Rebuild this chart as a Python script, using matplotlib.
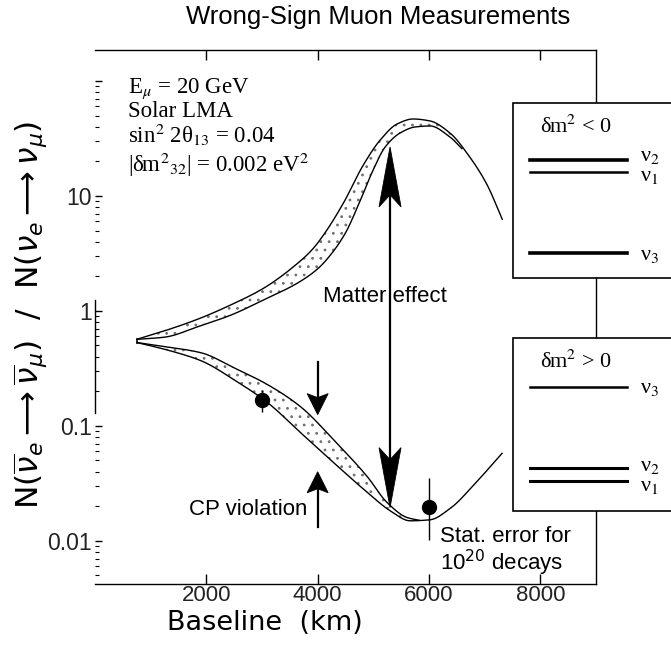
import numpy as np
import matplotlib
matplotlib.use("Agg")
import matplotlib.pyplot as plt
from matplotlib.patches import Polygon, Rectangle
from matplotlib.lines import Line2D
from matplotlib.ticker import FixedLocator, FixedFormatter, NullFormatter, LogLocator

plt.rcParams["mathtext.fontset"] = "stix"
plt.rcParams["hatch.linewidth"] = 0.8
plt.rcParams["hatch.color"] = "#707070"

# ---- curves: ratio of wrong-sign muon rates vs baseline ----
# band for dm^2 > 0 (ratio grows with baseline)
upper_hi_km = [750, 1250, 1857, 2446, 3036, 3643, 3911, 4143, 4464, 4821, 5125,
               5429, 5714, 6018, 6375, 6732, 7036, 7321]
upper_hi = [0.565, 0.67, 0.85, 1.13, 1.58, 2.6, 3.45, 4.86, 8.69, 18.6, 30.7,
            42.3, 46.7, 44.9, 35.3, 21.8, 12.7, 6.18]
upper_lo_km = [750, 1250, 1857, 2446, 3036, 3643, 4000, 4232, 4500, 4732, 4982,
               5214, 5482, 5750, 6018, 6375, 6600]
upper_lo = [0.565, 0.59, 0.73, 0.92, 1.25, 1.75, 2.32, 3.07, 4.77, 8.35, 16.2,
            26.7, 35.3, 39.8, 40.6, 32.6, 25.5]

# band for dm^2 < 0 (ratio falls with baseline)
lower_hi_km = [750, 1286, 1911, 2500, 3107, 3696, 4286, 4893, 5250, 5607, 5839]
lower_hi = [0.53, 0.486, 0.431, 0.319, 0.227, 0.146, 0.0756, 0.0360, 0.0214,
            0.0159, 0.0150]
lower_lo_km = [750, 1286, 1911, 2500, 3107, 3696, 4286, 4893, 5304, 5661, 6018,
               6375, 6857, 7321]
lower_lo = [0.53, 0.458, 0.367, 0.251, 0.158, 0.0868, 0.0478, 0.0263, 0.0182,
            0.0149, 0.0152, 0.0190, 0.0326, 0.0582]

# example measurements with statistical errors for 10^20 decays
meas_km = [3000, 6000]
meas_ratio = [0.168, 0.0198]
meas_err_low = [0.036, 0.0096]
meas_err_high = [0.036, 0.0155]

xticks = [2000, 4000, 6000, 8000]
xtick_labels = ["2000", "4000", "6000", "8000"]
yticks = [0.01, 0.1, 1, 10, 100]
ytick_labels = ["0.01", "0.1", "1", "10", ""]

# ---- arrow positions ----
matter_km, matter_top, matter_bottom = 5300, 26.7, 0.0194
cp_km = 4000
cp_down = (0.36, 0.125)
cp_up = (0.0132, 0.0398)


def pchip(x, y, xn):
    x = np.asarray(x, float)
    y = np.asarray(y, float)
    h = np.diff(x)
    d = np.diff(y) / h
    m = np.zeros_like(y)
    for k in range(1, len(x) - 1):
        if d[k - 1] * d[k] > 0:
            w1 = 2 * h[k] + h[k - 1]
            w2 = h[k] + 2 * h[k - 1]
            m[k] = (w1 + w2) / (w1 / d[k - 1] + w2 / d[k])
    m[0] = d[0]
    m[-1] = d[-1]
    i = np.clip(np.searchsorted(x, xn) - 1, 0, len(h) - 1)
    t = (xn - x[i]) / h[i]
    h00 = 2 * t**3 - 3 * t**2 + 1
    h10 = t**3 - 2 * t**2 + t
    h01 = -2 * t**3 + 3 * t**2
    h11 = t**3 - t**2
    return h00 * y[i] + h10 * h[i] * m[i] + h01 * y[i + 1] + h11 * h[i] * m[i + 1]


def smooth(xs, ys, xn):
    return 10 ** pchip(xs, np.log10(ys), xn)


W, H = 671, 648
fig = plt.figure(figsize=(W / 100, H / 100), dpi=100)
fx = lambda px: px / W
fy = lambda py: 1 - py / H

ax = fig.add_axes([fx(95), fy(584), (596 - 95) / W, (584 - 50) / H])
ax.set_yscale("log")
ax.set_xlim(0, 9000)
ax.set_ylim(0.0042, 186)

# ---- stippled bands ----
x_ub = np.linspace(upper_lo_km[0], upper_lo_km[-1], 600)
ub_hi = smooth(upper_hi_km, upper_hi, x_ub)
ub_lo = smooth(upper_lo_km, upper_lo, x_ub)
ax.fill_between(x_ub, np.minimum(ub_hi, ub_lo), np.maximum(ub_hi, ub_lo),
                facecolor="none", edgecolor="#707070", hatch="..", lw=0)
x_lb = np.linspace(lower_hi_km[0], lower_hi_km[-1], 600)
lb_hi = smooth(lower_hi_km, lower_hi, x_lb)
lb_lo = smooth(lower_lo_km, lower_lo, x_lb)
ax.fill_between(x_lb, np.minimum(lb_hi, lb_lo), np.maximum(lb_hi, lb_lo),
                facecolor="none", edgecolor="#707070", hatch="..", lw=0)

for xs, ys in [(upper_hi_km, upper_hi), (upper_lo_km, upper_lo),
               (lower_hi_km, lower_hi), (lower_lo_km, lower_lo)]:
    xd = np.linspace(xs[0], xs[-1], 800)
    ax.plot(xd, smooth(xs, ys, xd), color="black", lw=1.0, solid_capstyle="butt")
# closing tick at the common starting point
ax.plot([upper_hi_km[0]] * 2, [lower_lo[0], upper_hi[0]], color="black", lw=1.2)

# ---- measurements ----
ax.errorbar(meas_km, meas_ratio, yerr=[meas_err_low, meas_err_high], fmt="o",
            color="black", ms=10, elinewidth=1.0, capsize=0, zorder=5)

# ---- arrows ----
def head(x, ytip, up, length, width, notch):
    tx, ty = ax.transData.transform((x, ytip))
    s = 1 if up else -1
    verts = [(tx, ty), (tx - width / 2, ty - s * length),
             (tx, ty - s * (length - notch)), (tx + width / 2, ty - s * length)]
    ax.add_patch(Polygon(ax.transData.inverted().transform(verts), closed=True,
                         fc="black", ec="black", lw=0.6, zorder=6))


ax.plot([matter_km, matter_km], [matter_bottom * 1.3, matter_top / 1.3],
        color="black", lw=1.6, zorder=6)
head(matter_km, matter_top, True, 60, 22, 12)
head(matter_km, matter_bottom, False, 60, 22, 12)

ax.plot([cp_km, cp_km], [cp_down[0], cp_down[1] * 1.1], color="black", lw=1.6)
head(cp_km, cp_down[1], False, 21, 21, 4)
ax.plot([cp_km, cp_km], [cp_up[0], cp_up[1] / 1.1], color="black", lw=1.6)
head(cp_km, cp_up[1], True, 21, 21, 4)

# ---- annotations ----
sans = "Liberation Sans"
ax.text(5214, 1.32, "Matter effect", family=sans, fontsize=16, ha="center", va="center")
ax.text(3821, 0.0187, "CP violation", family=sans, fontsize=16, ha="right", va="center")
ax.text(6196, 0.0108, "Stat. error for", family=sans, fontsize=16, ha="left", va="center")
ax.text(6196, 0.00645, r"10$^{\mathsf{20}}$ decays", family=sans, fontsize=16,
        ha="left", va="center", math_fontfamily="dejavusans")

serif = "Liberation Serif"
params = [r"E$_{\mu}$ = 20 GeV", "Solar LMA", r"sin$^2$ 2θ$_{13}$ = 0.04",
          r"|δm$^2$$_{32}$| = 0.002 eV$^2$"]
for txt, yb in zip(params, [0.919, 0.875, 0.826, 0.772]):
    ax.text(0.066, yb, txt, transform=ax.transAxes, family=serif, fontsize=16.5,
            ha="left", va="baseline")

# ---- axes styling ----
ax.xaxis.set_major_locator(FixedLocator(xticks))
ax.xaxis.set_major_formatter(FixedFormatter(xtick_labels))
ax.yaxis.set_major_locator(FixedLocator(yticks))
ax.yaxis.set_major_formatter(FixedFormatter(ytick_labels))
ax.yaxis.set_minor_locator(LogLocator(base=10, subs=np.arange(2, 10)))
ax.yaxis.set_minor_formatter(NullFormatter())
ax.tick_params(axis="x", which="major", direction="in", length=7, width=1,
               top=True, labelsize=16, pad=1, labelcolor="#222222")
ax.tick_params(axis="y", which="major", direction="in", length=5, width=1,
               labelsize=16.5, pad=2, labelcolor="#222222")
ax.tick_params(axis="y", which="minor", direction="in", length=3, width=0.8)
for lab in ax.get_xticklabels() + ax.get_yticklabels():
    lab.set_family(sans)
for sp in ax.spines.values():
    sp.set_linewidth(1.0)
ax.spines["left"].set_bounds(0.13, 1.25)

# ---- titles ----
fig.text(fx(378), fy(17), "Wrong-Sign Muon Measurements", family=sans, fontsize=18.5,
         ha="center", va="center")
fig.text(fx(265), fy(623), "Baseline  (km)", family="DejaVu Sans", fontsize=19.5,
         ha="center", va="center")
fig.text(fx(30), fy(315),
         r"$\mathrm{N}(\overline{\nu}_{e} \longrightarrow \overline{\nu}_{\mu})\ \ /\ \ \mathrm{N}(\nu_{e} \longrightarrow \nu_{\mu})$",
         rotation=90, fontsize=22.5, ha="center", va="center", math_fontfamily="dejavusans")

# ---- mass hierarchy insets ----
def inset(top, bottom, title, levels):
    fig.add_artist(Rectangle((fx(513), fy(bottom)), fx(680) - fx(513), fy(top) - fy(bottom),
                             transform=fig.transFigure, fc="white", ec="black", lw=1.2,
                             zorder=10))
    fig.text(fx(540), fy(top + 24), title, family=serif, fontsize=16, ha="left",
             va="center", zorder=11)
    for py, lw, label, ly in levels:
        fig.add_artist(Line2D([fx(530), fx(627)], [fy(py), fy(py)], color="black", lw=lw,
                              transform=fig.transFigure, zorder=11))
        fig.text(fx(640), fy(ly), label, family=serif, fontsize=16, ha="left",
                 va="center", zorder=11)


inset(103, 278, r"δm$^2$ < 0",
      [(160, 2.6, r"ν$_2$", 156), (172, 1.8, r"ν$_1$", 176), (253, 2.6, r"ν$_3$", 255)])
inset(338, 511, r"δm$^2$ > 0",
      [(387, 1.8, r"ν$_3$", 389), (468, 2.2, r"ν$_2$", 466), (481, 2.2, r"ν$_1$", 486)])

fig.savefig("out.png", dpi=100)
